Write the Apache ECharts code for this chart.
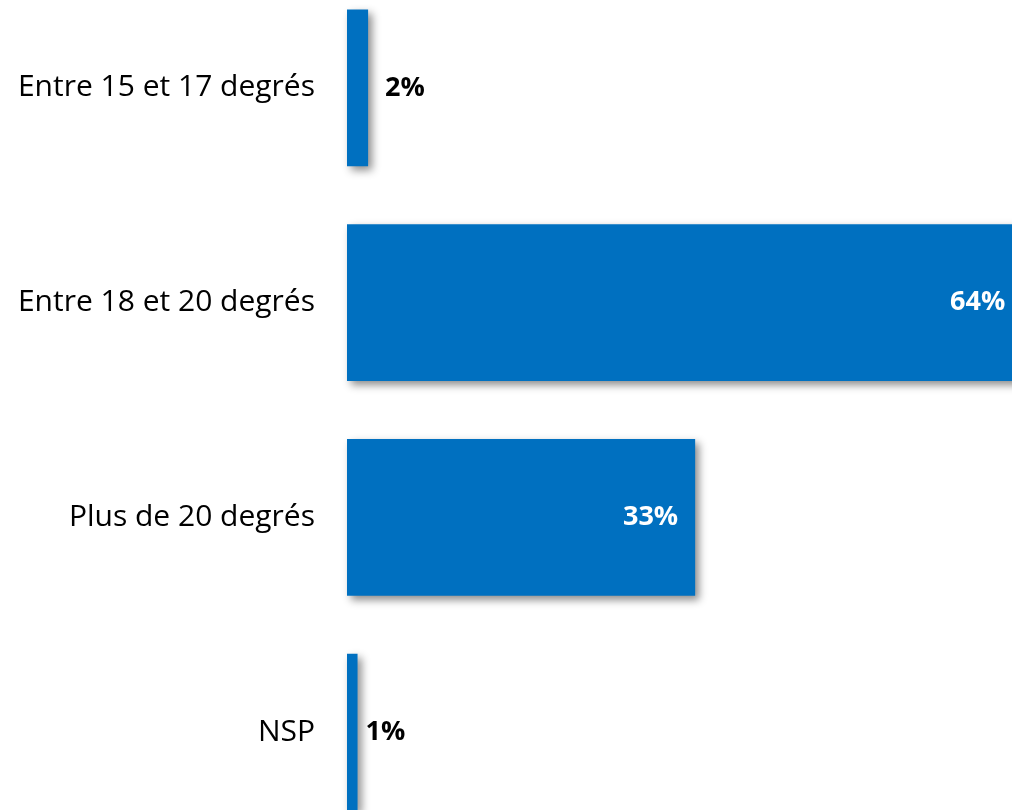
<!DOCTYPE html>
<html><head><meta charset="utf-8">
<script src="https://cdn.jsdelivr.net/npm/echarts@6/dist/echarts.min.js"></script>
<style>html,body{margin:0;padding:0;background:#fff}#c{width:1012px;height:810px}</style>
</head><body><div id="c"></div>
<script>
const categories = ['Entre 15 et 17 degrés', 'Entre 18 et 20 degrés', 'Plus de 20 degrés', 'NSP'];
const values = [2, 64, 33, 1];

const chart = echarts.init(document.getElementById('c'));
const data = values.map((v, i) => {
  const inside = v > 10;
  return {
    value: v,
    label: {
      position: inside ? 'insideRight' : 'right',
      distance: inside ? 17 : (v >= 2 ? 17 : 8),
      color: inside ? '#ffffff' : '#000000'
    }
  };
});
chart.setOption({
  animation: false,
  grid: { left: 347, right: -390, top: -19.5, bottom: -29.5, containLabel: false, outerBoundsMode: 'none' },
  xAxis: { type: 'value', min: 0, max: 100, show: false },
  yAxis: {
    type: 'category', data: categories, inverse: true,
    axisLine: { show: false }, axisTick: { show: false }, splitLine: { show: false },
    axisLabel: { margin: 32, fontSize: 30, color: '#000', fontFamily: 'Open Sans' }
  },
  series: [{
    type: 'bar', data: data, barCategoryGap: '27%', clip: false,
    itemStyle: { color: '#0070C0', shadowColor: 'rgba(0,0,0,0.45)', shadowBlur: 8, shadowOffsetX: 4, shadowOffsetY: 4 },
    label: { show: true, formatter: '{c}%', fontSize: 27, fontWeight: 'bold', fontFamily: 'Open Sans' }
  }]
});
</script></body></html>
